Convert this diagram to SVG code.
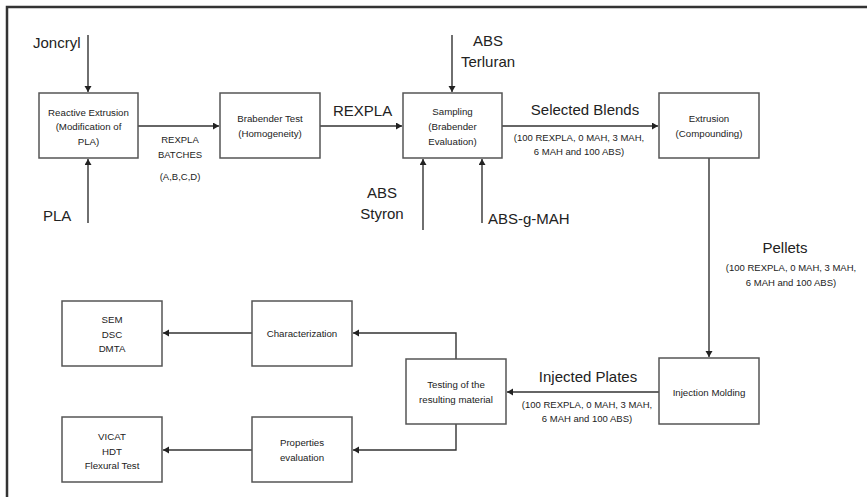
<svg xmlns="http://www.w3.org/2000/svg" width="867" height="497" viewBox="0 0 867 497">
<defs>
<marker id="ah" markerWidth="8" markerHeight="8" refX="6" refY="3.5" orient="auto" markerUnits="userSpaceOnUse">
<path d="M0,0 L6,3.5 L0,7 Z" fill="#222"/>
</marker>
<style>
.box{fill:#fff;stroke:#555;stroke-width:1.5}
.t{font-family:"Liberation Sans",Arial,sans-serif;font-size:9.7px;fill:#222;text-anchor:middle}
.big{font-family:"Liberation Sans",Arial,sans-serif;font-size:15px;fill:#222}
.sub{font-family:"Liberation Sans",Arial,sans-serif;font-size:9.5px;fill:#222;text-anchor:middle}
.c{fill:none;stroke:#333;stroke-width:1.4}
</style>
</defs>
<rect width="867" height="497" fill="#fff"/>
<path d="M7,497 L7,7 L867,7" fill="none" stroke="#333" stroke-width="2.5"/>

<g id="connectors">
<path class="c" d="M88,35 L88,92" marker-end="url(#ah)"/>
<path class="c" d="M88,223 L88,159" marker-end="url(#ah)"/>
<path class="c" d="M138,126 L219,126" marker-end="url(#ah)"/>
<path class="c" d="M320,126 L402,126" marker-end="url(#ah)"/>
<path class="c" d="M452,35 L452,92" marker-end="url(#ah)"/>
<path class="c" d="M423,230 L423,159" marker-end="url(#ah)"/>
<path class="c" d="M482,223 L482,159" marker-end="url(#ah)"/>
<path class="c" d="M502,126 L658,126" marker-end="url(#ah)"/>
<path class="c" d="M709,158 L709,357" marker-end="url(#ah)"/>
<path class="c" d="M659,392 L507,392" marker-end="url(#ah)"/>
<path class="c" d="M456,359 L456,333 L353,333" marker-end="url(#ah)"/>
<path class="c" d="M456,424 L456,450 L353,450" marker-end="url(#ah)"/>
<path class="c" d="M252,333 L163,333" marker-end="url(#ah)"/>
<path class="c" d="M252,450 L163,450" marker-end="url(#ah)"/>
</g>

<g id="labels">
<text class="big" x="33" y="48">Joncryl</text>
<text class="big" x="43" y="221">PLA</text>
<text class="sub" x="180" y="143">REXPLA</text>
<text class="sub" x="180" y="158">BATCHES</text>
<text class="sub" x="180" y="180">(A,B,C,D)</text>
<text class="big" x="333" y="116">REXPLA</text>
<text class="big" x="488" y="46" text-anchor="middle">ABS</text>
<text class="big" x="488" y="67" text-anchor="middle">Terluran</text>
<text class="big" x="382" y="198" text-anchor="middle">ABS</text>
<text class="big" x="382" y="219" text-anchor="middle">Styron</text>
<text class="big" x="488" y="224">ABS-g-MAH</text>
<text class="big" x="585" y="115" text-anchor="middle">Selected Blends</text>
<text class="sub" x="579" y="141">(100 REXPLA, 0 MAH, 3 MAH,</text>
<text class="sub" x="579" y="155">6 MAH and 100 ABS)</text>
<text class="big" x="785" y="253" text-anchor="middle">Pellets</text>
<text class="sub" x="791" y="271">(100 REXPLA, 0 MAH, 3 MAH,</text>
<text class="sub" x="791" y="286">6 MAH and 100 ABS)</text>
<text class="big" x="588" y="382" text-anchor="middle">Injected Plates</text>
<text class="sub" x="587" y="408">(100 REXPLA, 0 MAH, 3 MAH,</text>
<text class="sub" x="587" y="422">6 MAH and 100 ABS)</text>
</g>

<g id="reactive-extrusion">
<rect class="box" x="39" y="93" width="99" height="65"/>
<text class="t" x="88.5" y="116">Reactive Extrusion</text>
<text class="t" x="88.5" y="130">(Modification of</text>
<text class="t" x="88.5" y="145">PLA)</text>
</g>
<g id="brabender-test">
<rect class="box" x="220" y="93" width="100" height="65"/>
<text class="t" x="270" y="122">Brabender Test</text>
<text class="t" x="270" y="137">(Homogeneity)</text>
</g>
<g id="sampling">
<rect class="box" x="403" y="93" width="99" height="65"/>
<text class="t" x="452.5" y="115">Sampling</text>
<text class="t" x="452.5" y="130">(Brabender</text>
<text class="t" x="452.5" y="145">Evaluation)</text>
</g>
<g id="extrusion">
<rect class="box" x="659" y="93" width="100" height="65"/>
<text class="t" x="709" y="122">Extrusion</text>
<text class="t" x="709" y="137">(Compounding)</text>
</g>
<g id="injection-molding">
<rect class="box" x="659" y="358" width="100" height="66"/>
<text class="t" x="709" y="396">Injection Molding</text>
</g>
<g id="testing">
<rect class="box" x="406" y="359" width="100" height="65"/>
<text class="t" x="456" y="388">Testing of the</text>
<text class="t" x="456" y="403">resulting material</text>
</g>
<g id="characterization">
<rect class="box" x="252" y="301" width="100" height="65"/>
<text class="t" x="302" y="337">Characterization</text>
</g>
<g id="properties-evaluation">
<rect class="box" x="252" y="417" width="100" height="65"/>
<text class="t" x="302" y="446">Properties</text>
<text class="t" x="302" y="461">evaluation</text>
</g>
<g id="sem-dsc-dmta">
<rect class="box" x="62" y="301" width="100" height="65"/>
<text class="t" x="112" y="323">SEM</text>
<text class="t" x="112" y="338">DSC</text>
<text class="t" x="112" y="352">DMTA</text>
</g>
<g id="vicat-hdt-flexural">
<rect class="box" x="62" y="417" width="100" height="65"/>
<text class="t" x="112" y="440">VICAT</text>
<text class="t" x="112" y="455">HDT</text>
<text class="t" x="112" y="469">Flexural Test</text>
</g>
</svg>
